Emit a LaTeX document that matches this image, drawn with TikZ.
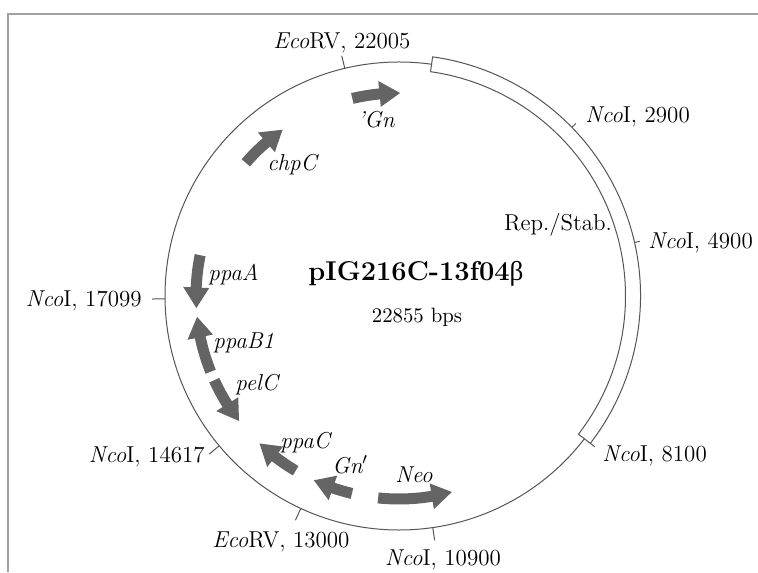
\documentclass[tikz,border=0pt]{standalone}
\usepackage{fontspec}
\newfontfamily\grk{Liberation Serif}
\definecolor{genegray}{RGB}{100,100,100}
\definecolor{linegray}{RGB}{85,85,85}
\definecolor{framegray}{RGB}{160,160,160}
\tikzset{
  lbl/.style={font=\fontsize{11.5}{13}\selectfont, inner sep=0pt},
  genelbl/.style={font=\fontsize{11.5}{13}\selectfont\itshape, inner sep=0pt},
  mapline/.style={draw=linegray, line width=0.5pt},
  genefill/.style={fill=genegray},
}
\newcommand{\genearc}[2]{%
  \pgfmathsetmacro{\gsign}{#2>#1 ? 1 : -1}%
  \pgfmathsetmacro{\gbase}{#2 - \gsign*5.8}%
  \fill[genefill] (#1:208.5) arc[start angle=#1, end angle=\gbase, radius=208.5]
    -- (\gbase:216) -- (#2:203) -- (\gbase:190) -- (\gbase:197.5)
    arc[start angle=\gbase, end angle=#1, radius=197.5] -- cycle;
}
\begin{document}
\begin{tikzpicture}[x=0.5pt,y=0.5pt]
\useasboundingbox (-399,-276) rectangle (359,296);
% frame
\draw[framegray, line width=1pt] (-391,-276) -- (-391,282) -- (359,282);
% backbone
\draw[mapline] (0,0) circle[radius=234];
% Rep./Stab. box
\draw[mapline, fill=white] (82:226.5) -- (82:241.5) arc[start angle=82, end angle=-37.6, radius=241.5]
  -- (-37.6:226.5) arc[start angle=-37.6, end angle=82, radius=226.5] -- cycle;
% ticks
\foreach \a/\r/\n in {103.4/234/t1, 44.3/241.5/t2, 12.8/241.5/t3, -37.6/241.5/t4, -81.7/234/t5, -114.8/234/t6, -140.2/234/t7, -179.3/234/t8}{
  \coordinate (\n a) at (\a:\r);
  \coordinate (\n b) at (\a:247);
  \draw[mapline] (\n a) -- (\n b);
}
% genes
\genearc{103.3}{89.7}
\genearc{139}{125}
\genearc{168.4}{183.4}
\genearc{201.9}{185.9}
\genearc{204.5}{218}
\genearc{239.4}{226.6}
\genearc{256.6}{245.2}
\genearc{264.1}{285.1}
% gene labels
\node[genelbl] (gn1) at (-23,176) {'Gn};
\node[genelbl] (chpc) at (-107,131) {chpC};
\node[genelbl, anchor=west] (ppaa) at (-191,21) {ppaA};
\node[genelbl, anchor=west] (ppab) at (-186,-47) {ppaB1};
\node[genelbl, anchor=west] (pelc) at (-164,-89) {pelC};
\node[genelbl, anchor=west] (ppac) at (-119,-147) {ppaC};
\node[genelbl, anchor=west] (gn2) at (-67,-169) {Gn$'$};
\node[genelbl] (neo) at (15,-179) {Neo};
% site labels
\node[lbl] (e1) at (-57,253) {\textit{Eco}RV, 22005};
\node[lbl, anchor=west] (n1) at (186,179) {\textit{Nco}I, 2900};
\node[lbl] (rep) at (159,71) {Rep./Stab.};
\node[lbl, anchor=west] (n2) at (249,53) {\textit{Nco}I, 4900};
\node[lbl, anchor=west] (n3) at (203,-160) {\textit{Nco}I, 8100};
\node[lbl] (n4) at (44,-264) {\textit{Nco}I, 10900};
\node[lbl] (e2) at (-118,-246) {\textit{Eco}RV, 13000};
\node[lbl, anchor=east] (n5) at (-194,-161) {\textit{Nco}I, 14617};
\node[lbl, anchor=east] (n6) at (-257,-5) {\textit{Nco}I, 17099};
% title
\node[font=\fontsize{13.6}{15}\selectfont\bfseries, inner sep=0pt] (title) at (17,22) {pIG216C-13f04{\grk\mdseries β}};
\node[font=\fontsize{10.4}{12}\selectfont, inner sep=0pt] (size) at (18,-21) {22855 bps};
\end{tikzpicture}
\end{document}
